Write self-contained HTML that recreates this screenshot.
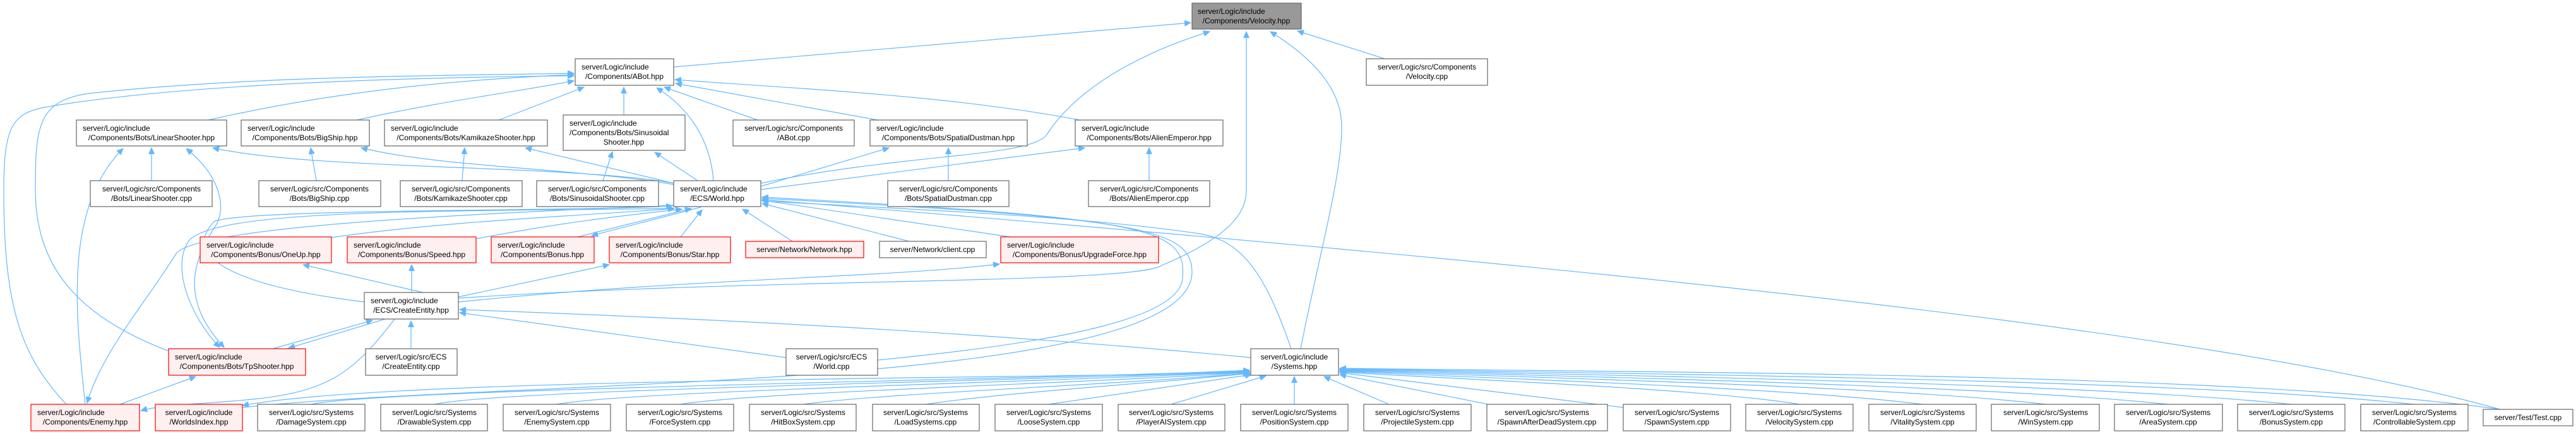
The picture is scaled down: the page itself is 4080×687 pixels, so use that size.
<!DOCTYPE html>
<html><head><meta charset="utf-8"><style>
html,body{margin:0;padding:0;background:#fff;}
svg{display:block;}
text{font-family:"Liberation Sans",Arial,sans-serif;font-size:12px;fill:#000;}
.e{fill:none;stroke:#63b8ff;stroke-width:1.2;}
.n{fill:#fff;stroke:#666;stroke-width:1.2;}
.r{fill:#fff0f0;stroke:#f00;stroke-width:1.2;}
.g{fill:#999;stroke:#666;stroke-width:1.2;}
</style></head><body>
<svg width="4080" height="687" viewBox="0 0 4080 687" xmlns="http://www.w3.org/2000/svg">
<defs><marker id="a" markerWidth="11" markerHeight="9" refX="10" refY="4.5" orient="auto" markerUnits="userSpaceOnUse"><path d="M0,0 L10,4.5 L0,9 z" fill="#63b8ff" stroke="#63b8ff"/></marker>
<marker id="b" markerWidth="11" markerHeight="9" refX="0" refY="4.5" orient="auto" markerUnits="userSpaceOnUse"><path d="M10,0 L0,4.5 L10,9 z" fill="#63b8ff" stroke="#63b8ff"/></marker></defs>
<g marker-end="url(#a)">
<path class="e" d="M1067,106 L1886,36"/>
<path class="e" d="M1205,290 C1450,240 1640,250 1660,210 C1720,120 1850,70 1916,50"/>
<path class="e" d="M726,472 C1200,440 1800,450 1840,420 C1960,370 1974,330 1974,300 L1974,50"/>
<path class="e" d="M2060,552 C2090,400 2125,280 2125,200 C2125,130 2060,80 2012,50"/>
<path class="e" d="M2193,93 L2055,49"/>
<path class="e" d="M330,190 C550,140 750,125 909,118"/>
<path class="e" d="M565,190 C700,160 820,145 909,128"/>
<path class="e" d="M790,190 L925,138"/>
<path class="e" d="M988,182 L988,138"/>
<path class="e" d="M1200,190 L1052,138"/>
<path class="e" d="M1390,190 L1070,132"/>
<path class="e" d="M1710,190 C1500,150 1250,140 1069,126"/>
<path class="e" d="M1130,286 C1125,220 1090,170 1040,139"/>
<path class="e" d="M268,556 C120,500 56,420 56,300 C56,200 60,160 140,148 C400,120 700,120 909,116"/>
<path class="e" d="M105,640 C30,560 6,480 6,300 C6,200 20,180 70,170 C300,130 700,122 909,120"/>
<path class="e" d="M240,286 L240,234"/>
<path class="e" d="M501,286 L492,234"/>
<path class="e" d="M732,286 L736,234"/>
<path class="e" d="M955,286 L970,240"/>
<path class="e" d="M1502,286 L1502,234"/>
<path class="e" d="M1820,286 L1820,234"/>
<path class="e" d="M1067,290 C900,260 500,270 337,234"/>
<path class="e" d="M1067,292 C900,265 700,265 572,234"/>
<path class="e" d="M1067,290 L832,234"/>
<path class="e" d="M1105,286 L1037,241"/>
<path class="e" d="M1205,295 L1408,234"/>
<path class="e" d="M1205,300 L1718,234"/>
<path class="e" d="M135,640 C120,500 100,330 195,235"/>
<path class="e" d="M295,235 C350,280 360,330 340,360 C300,420 290,480 355,550" marker-start="url(#b)"/>
<path class="e" d="M525,376 C700,350 950,340 1068,330"/>
<path class="e" d="M754,378 C900,350 1000,340 1080,331"/>
<path class="e" d="M915,375 L1095,330"/>
<path class="e" d="M1110,328 L937,373"/>
<path class="e" d="M1078,375 L1112,332"/>
<path class="e" d="M1255,382 L1176,331"/>
<path class="e" d="M1440,382 L1207,322"/>
<path class="e" d="M1600,375 L1207,317"/>
<path class="e" d="M1390,570 C1700,540 1870,500 1873,440 C1880,360 1820,345 1207,312"/>
<path class="e" d="M384,645 C800,600 1890,620 1888,430 C1886,360 1800,345 1207,314"/>
<path class="e" d="M2045,552 C2000,420 1960,380 1900,370 C1700,340 1400,330 1207,318"/>
<path class="e" d="M3960,648 C3500,520 2500,420 1207,316"/>
<path class="e" d="M577,478 C350,450 290,400 340,350 C400,330 900,335 1065,326"/>
<path class="e" d="M1067,330 C700,335 350,330 300,380 C270,420 300,500 348,550"/>
<path class="e" d="M1067,325 C700,340 320,360 280,400 C230,480 160,560 138,638"/>
<path class="e" d="M670,463 L480,419"/>
<path class="e" d="M652,463 L652,419"/>
<path class="e" d="M726,470 L965,419"/>
<path class="e" d="M726,478 C1100,440 1400,440 1583,418"/>
<path class="e" d="M432,552 L590,507"/>
<path class="e" d="M610,505 L457,551"/>
<path class="e" d="M651,552 L651,508"/>
<path class="e" d="M1245,566 L728,495"/>
<path class="e" d="M1981,566 C1500,520 1000,500 728,490"/>
<path class="e" d="M625,505 C560,590 520,620 400,632 C320,640 260,640 223,650"/>
<path class="e" d="M190,640 L310,596"/>
<path class="e" d="M1981,590 C1500,600 600,600 384,642"/>
</g>
<g marker-end="url(#a)">
<path class="e" d="M493,640 C600,615 1700,600 1979,586"/>
<path class="e" d="M688,640 C800,615 1700,602 1979,587"/>
<path class="e" d="M882,640 C1000,618 1700,604 1979,588"/>
<path class="e" d="M1077,640 C1200,620 1750,606 1979,589"/>
<path class="e" d="M1272,640 C1400,622 1800,608 1979,590"/>
<path class="e" d="M1466,640 C1600,620 1850,605 1979,591"/>
<path class="e" d="M1661,640 L1982,593"/>
<path class="e" d="M1855,640 L2005,595"/>
<path class="e" d="M2050,640 L2050,596"/>
<path class="e" d="M2200,640 L2097,596"/>
<path class="e" d="M2357,640 L2122,593"/>
<path class="e" d="M2571,645 L2122,590"/>
<path class="e" d="M2850,640 C2700,615 2300,600 2122,589"/>
<path class="e" d="M3045,640 C2850,615 2400,600 2122,588"/>
<path class="e" d="M3240,640 C3000,612 2450,598 2122,587"/>
<path class="e" d="M3434,640 C3150,610 2500,596 2122,586"/>
<path class="e" d="M3629,640 C3300,606 2550,594 2122,585"/>
<path class="e" d="M3824,640 C3450,600 2600,592 2122,584"/>
<path class="e" d="M3960,648 C3550,590 2650,590 2122,583"/>
</g>
<!-- nodes -->
<rect class="g" x="1888" y="5" width="173" height="41"/><text x="1897" y="22">server/Logic/include</text><text x="1974" y="37" text-anchor="middle">/Components/Velocity.hpp</text>
<rect class="n" x="911" y="93" width="156" height="42"/><text x="921" y="110">server/Logic/include</text><text x="989" y="125" text-anchor="middle">/Components/ABot.hpp</text>
<rect class="n" x="2164" y="93" width="192" height="42"/><text x="2260" y="110" text-anchor="middle">server/Logic/src/Components</text><text x="2260" y="125" text-anchor="middle">/Velocity.cpp</text>
<rect class="n" x="121" y="190" width="238" height="41"/><text x="131" y="207">server/Logic/include</text><text x="240" y="222" text-anchor="middle">/Components/Bots/LinearShooter.hpp</text>
<rect class="n" x="382" y="190" width="203" height="41"/><text x="392" y="207">server/Logic/include</text><text x="483" y="222" text-anchor="middle">/Components/Bots/BigShip.hpp</text>
<rect class="n" x="609" y="190" width="258" height="41"/><text x="619" y="207">server/Logic/include</text><text x="738" y="222" text-anchor="middle">/Components/Bots/KamikazeShooter.hpp</text>
<rect class="n" x="892" y="182" width="193" height="56"/><text x="902" y="199">server/Logic/include</text><text x="902" y="214">/Components/Bots/Sinusoidal</text><text x="988" y="229" text-anchor="middle">Shooter.hpp</text>
<rect class="n" x="1161" y="190" width="192" height="41"/><text x="1257" y="207" text-anchor="middle">server/Logic/src/Components</text><text x="1257" y="222" text-anchor="middle">/ABot.cpp</text>
<rect class="n" x="1378" y="190" width="249" height="41"/><text x="1388" y="207">server/Logic/include</text><text x="1502" y="222" text-anchor="middle">/Components/Bots/SpatialDustman.hpp</text>
<rect class="n" x="1703" y="190" width="234" height="41"/><text x="1713" y="207">server/Logic/include</text><text x="1820" y="222" text-anchor="middle">/Components/Bots/AlienEmperor.hpp</text>
<rect class="n" x="143" y="286" width="193" height="41"/><text x="240" y="303" text-anchor="middle">server/Logic/src/Components</text><text x="240" y="318" text-anchor="middle">/Bots/LinearShooter.cpp</text>
<rect class="n" x="410" y="286" width="193" height="41"/><text x="506" y="303" text-anchor="middle">server/Logic/src/Components</text><text x="506" y="318" text-anchor="middle">/Bots/BigShip.cpp</text>
<rect class="n" x="634" y="286" width="193" height="41"/><text x="730" y="303" text-anchor="middle">server/Logic/src/Components</text><text x="730" y="318" text-anchor="middle">/Bots/KamikazeShooter.cpp</text>
<rect class="n" x="850" y="286" width="193" height="41"/><text x="946" y="303" text-anchor="middle">server/Logic/src/Components</text><text x="946" y="318" text-anchor="middle">/Bots/SinusoidalShooter.cpp</text>
<rect class="n" x="1067" y="286" width="138" height="41"/><text x="1077" y="303">server/Logic/include</text><text x="1136" y="318" text-anchor="middle">/ECS/World.hpp</text>
<rect class="n" x="1406" y="286" width="192" height="41"/><text x="1502" y="303" text-anchor="middle">server/Logic/src/Components</text><text x="1502" y="318" text-anchor="middle">/Bots/SpatialDustman.cpp</text>
<rect class="n" x="1724" y="286" width="192" height="41"/><text x="1820" y="303" text-anchor="middle">server/Logic/src/Components</text><text x="1820" y="318" text-anchor="middle">/Bots/AlienEmperor.cpp</text>
<rect class="r" x="317" y="375" width="208" height="41"/><text x="327" y="392">server/Logic/include</text><text x="421" y="407" text-anchor="middle">/Components/Bonus/OneUp.hpp</text>
<rect class="r" x="550" y="375" width="204" height="41"/><text x="560" y="392">server/Logic/include</text><text x="652" y="407" text-anchor="middle">/Components/Bonus/Speed.hpp</text>
<rect class="r" x="778" y="375" width="163" height="41"/><text x="788" y="392">server/Logic/include</text><text x="859" y="407" text-anchor="middle">/Components/Bonus.hpp</text>
<rect class="r" x="965" y="375" width="192" height="41"/><text x="975" y="392">server/Logic/include</text><text x="1061" y="407" text-anchor="middle">/Components/Bonus/Star.hpp</text>
<rect class="r" x="1181" y="382" width="187" height="26"/><text x="1274" y="399" text-anchor="middle">server/Network/Network.hpp</text>
<rect class="n" x="1393" y="382" width="169" height="26"/><text x="1477" y="399" text-anchor="middle">server/Network/client.cpp</text>
<rect class="r" x="1585" y="375" width="250" height="41"/><text x="1595" y="392">server/Logic/include</text><text x="1710" y="407" text-anchor="middle">/Components/Bonus/UpgradeForce.hpp</text>
<rect class="n" x="577" y="463" width="149" height="42"/><text x="587" y="480">server/Logic/include</text><text x="651" y="495" text-anchor="middle">/ECS/CreateEntity.hpp</text>
<rect class="r" x="267" y="552" width="217" height="42"/><text x="277" y="569">server/Logic/include</text><text x="375" y="584" text-anchor="middle">/Components/Bots/TpShooter.hpp</text>
<rect class="n" x="579" y="552" width="145" height="42"/><text x="651" y="569" text-anchor="middle">server/Logic/src/ECS</text><text x="651" y="584" text-anchor="middle">/CreateEntity.cpp</text>
<rect class="n" x="1245" y="552" width="145" height="42"/><text x="1317" y="569" text-anchor="middle">server/Logic/src/ECS</text><text x="1317" y="584" text-anchor="middle">/World.cpp</text>
<rect class="n" x="1981" y="552" width="139" height="42"/><text x="2050" y="569" text-anchor="middle">server/Logic/include</text><text x="2050" y="584" text-anchor="middle">/Systems.hpp</text>
<rect class="r" x="49" y="640" width="172" height="42"/><text x="59" y="657">server/Logic/include</text><text x="135" y="672" text-anchor="middle">/Components/Enemy.hpp</text>
<rect class="r" x="246" y="640" width="138" height="42"/><text x="315" y="657" text-anchor="middle">server/Logic/include</text><text x="315" y="672" text-anchor="middle">/WorldsIndex.hpp</text>
<g text-anchor="middle">
<rect class="n" x="408" y="640" width="170" height="42"/><text x="493" y="657">server/Logic/src/Systems</text><text x="493" y="672">/DamageSystem.cpp</text>
<rect class="n" x="603" y="640" width="169" height="42"/><text x="688" y="657">server/Logic/src/Systems</text><text x="688" y="672">/DrawableSystem.cpp</text>
<rect class="n" x="797" y="640" width="170" height="42"/><text x="882" y="657">server/Logic/src/Systems</text><text x="882" y="672">/EnemySystem.cpp</text>
<rect class="n" x="992" y="640" width="170" height="42"/><text x="1077" y="657">server/Logic/src/Systems</text><text x="1077" y="672">/ForceSystem.cpp</text>
<rect class="n" x="1187" y="640" width="169" height="42"/><text x="1272" y="657">server/Logic/src/Systems</text><text x="1272" y="672">/HitBoxSystem.cpp</text>
<rect class="n" x="1382" y="640" width="169" height="42"/><text x="1466" y="657">server/Logic/src/Systems</text><text x="1466" y="672">/LoadSystems.cpp</text>
<rect class="n" x="1576" y="640" width="170" height="42"/><text x="1661" y="657">server/Logic/src/Systems</text><text x="1661" y="672">/LooseSystem.cpp</text>
<rect class="n" x="1771" y="640" width="169" height="42"/><text x="1855" y="657">server/Logic/src/Systems</text><text x="1855" y="672">/PlayerAISystem.cpp</text>
<rect class="n" x="1965" y="640" width="170" height="42"/><text x="2050" y="657">server/Logic/src/Systems</text><text x="2050" y="672">/PositionSystem.cpp</text>
<rect class="n" x="2160" y="640" width="170" height="42"/><text x="2245" y="657">server/Logic/src/Systems</text><text x="2245" y="672">/ProjectileSystem.cpp</text>
<rect class="n" x="2355" y="640" width="191" height="42"/><text x="2450" y="657">server/Logic/src/Systems</text><text x="2450" y="672">/SpawnAfterDeadSystem.cpp</text>
<rect class="n" x="2571" y="640" width="170" height="42"/><text x="2656" y="657">server/Logic/src/Systems</text><text x="2656" y="672">/SpawnSystem.cpp</text>
<rect class="n" x="2765" y="640" width="170" height="42"/><text x="2850" y="657">server/Logic/src/Systems</text><text x="2850" y="672">/VelocitySystem.cpp</text>
<rect class="n" x="2960" y="640" width="170" height="42"/><text x="3045" y="657">server/Logic/src/Systems</text><text x="3045" y="672">/VitalitySystem.cpp</text>
<rect class="n" x="3154" y="640" width="171" height="42"/><text x="3240" y="657">server/Logic/src/Systems</text><text x="3240" y="672">/WinSystem.cpp</text>
<rect class="n" x="3349" y="640" width="171" height="42"/><text x="3434" y="657">server/Logic/src/Systems</text><text x="3434" y="672">/AreaSystem.cpp</text>
<rect class="n" x="3544" y="640" width="170" height="42"/><text x="3629" y="657">server/Logic/src/Systems</text><text x="3629" y="672">/BonusSystem.cpp</text>
<rect class="n" x="3739" y="640" width="170" height="42"/><text x="3824" y="657">server/Logic/src/Systems</text><text x="3824" y="672">/ControllableSystem.cpp</text>
<rect class="n" x="3933" y="648" width="142" height="26"/><text x="4004" y="665">server/Test/Test.cpp</text>
</g>
</svg>
</body></html>
